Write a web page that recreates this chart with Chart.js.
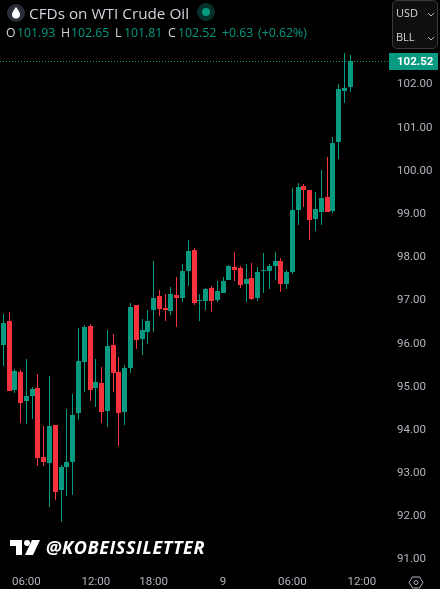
<!DOCTYPE html>
<html>
<head>
<meta charset="utf-8">
<script src="https://cdn.jsdelivr.net/npm/chart.js@4"></script>
<style>
  html, body { margin: 0; padding: 0; background: #000; }
  #wrap { position: relative; width: 440px; height: 589px; overflow: hidden; font-family: "Open Sans", sans-serif; }
  #wrap div, #wrap svg { position: absolute; white-space: nowrap; }
  #title { left: 29px; top: 3px; font-size: 15.3px; line-height: 20px; color: #d1d4dc; }
  .ohlc { top: 25px; font-size: 12.3px; line-height: 16px; color: #089981; }
  .ohlc.k { color: #d1d4dc; }
  #unitbox { left: 392px; top: 0; width: 46px; height: 49px; border: 1px solid #3a3a3a; border-radius: 5px; background: #0f0f0f; box-sizing: border-box; }
  .unit { left: 3px; font-size: 11px; line-height: 14px; color: #d1d4dc; }
  #mark { left: 46px; top: 536px; font-size: 18px; line-height: 22px; letter-spacing: 0.6px; font-weight: 700; font-style: italic; color: #fff; }
</style>
</head>
<body>
<div id="wrap">
  <canvas id="chart" width="440" height="589"></canvas>

  <svg style="left:7px;top:4px" width="18" height="18" viewBox="0 0 18 18">
    <circle cx="9" cy="9" r="9" fill="#2a2e39"/>
    <path d="M9 3 C11 6 13 8 13 10.5 A4 4 0 0 1 5 10.5 C5 8 7 6 9 3Z" fill="#fff"/>
  </svg>
  <div id="title">CFDs on WTI Crude Oil</div>
  <svg style="left:197px;top:3px" width="18" height="18" viewBox="0 0 18 18">
    <circle cx="9" cy="9" r="9" fill="#06302a"/>
    <circle cx="9" cy="9" r="4" fill="#089981"/>
  </svg>

  <div class="ohlc k" style="left:6px">O</div><div class="ohlc" style="left:17px">101.93</div>
  <div class="ohlc k" style="left:61px">H</div><div class="ohlc" style="left:71px">102.65</div>
  <div class="ohlc k" style="left:115px">L</div><div class="ohlc" style="left:124px">101.81</div>
  <div class="ohlc k" style="left:168px">C</div><div class="ohlc" style="left:178px">102.52</div>
  <div class="ohlc" style="left:222px">+0.63</div><div class="ohlc" style="left:258px">(+0.62%)</div>

  <div id="unitbox">
    <div class="unit" style="top:5px">USD</div>
    <div class="unit" style="top:29px">BLL</div>
    <svg style="left:34px;top:11px" width="8" height="5" viewBox="0 0 8 5"><path d="M1 1 L4 4 L7 1" fill="none" stroke="#b2b5be"/></svg>
    <svg style="left:34px;top:35px" width="8" height="5" viewBox="0 0 8 5"><path d="M1 1 L4 4 L7 1" fill="none" stroke="#b2b5be"/></svg>
  </div>

  <svg style="left:10px;top:540px" width="30" height="15" viewBox="0 0 30 15">
    <path d="M0 0 H12 V15 H6 V6 H0Z" fill="#fff"/>
    <circle cx="17" cy="3" r="3" fill="#fff"/>
    <path d="M22 0 H30 L23 15 H15Z" fill="#fff"/>
  </svg>
  <div id="mark">@KOBEISSILETTER</div>

  <svg style="left:408px;top:576px" width="16" height="13" viewBox="0 0 16 13">
    <path d="M4.5 1 H11.5 L15 6.5 L11.5 12 H4.5 L1 6.5Z" fill="none" stroke="#b2b5be"/>
    <circle cx="8" cy="6.5" r="2" fill="none" stroke="#b2b5be"/>
  </svg>
</div>

<script>
const opens = [95.95, 96.50, 94.91, 95.32, 94.65, 94.77, 94.95, 93.35, 93.22, 94.10, 92.59, 93.12, 93.24, 94.37, 95.55, 96.39,
    94.95, 95.07, 94.42, 95.95, 95.32, 94.40, 95.41, 96.87, 96.09, 96.25, 96.76, 97.08, 96.80, 96.73, 97.10, 97.03,
    97.66, 98.15, 96.97, 96.97, 97.27, 96.99, 97.15, 97.45, 97.75, 97.73, 97.36, 97.50, 97.03, 97.66, 97.66, 97.78,
    97.89, 97.36, 97.64, 99.07, 99.63, 99.53, 98.86, 99.03, 99.37, 99.05, 100.65, 101.83, 101.93];
const highs = [96.66, 96.71, 95.39, 95.37, 95.62, 94.98, 95.28, 94.07, 95.23, 94.10, 93.17, 94.47, 94.81, 96.34, 96.41, 96.43,
    95.62, 95.44, 96.29, 96.20, 95.67, 95.48, 96.92, 96.87, 96.55, 96.76, 97.89, 97.22, 97.13, 97.29, 97.52, 97.82,
    98.38, 98.19, 97.13, 97.27, 97.31, 97.43, 97.52, 97.80, 98.10, 97.78, 97.82, 97.85, 97.75, 98.08, 97.82, 98.10,
    97.96, 97.68, 99.58, 99.70, 99.67, 99.53, 99.49, 100.00, 100.30, 100.76, 101.99, 102.71, 102.65];
const lows = [95.45, 94.88, 94.84, 94.15, 94.12, 94.23, 93.15, 93.15, 92.20, 92.36, 91.85, 92.45, 92.47, 94.21, 94.86, 94.65,
    94.51, 94.14, 94.05, 94.86, 93.61, 94.10, 95.30, 95.85, 95.72, 95.97, 96.25, 96.62, 96.50, 96.64, 96.36, 96.94,
    97.31, 96.87, 96.50, 96.76, 96.71, 96.94, 97.15, 97.45, 97.43, 97.27, 96.94, 96.99, 96.97, 97.15, 97.24, 97.45,
    97.17, 97.24, 97.59, 98.72, 99.14, 98.38, 98.59, 98.73, 99.03, 99.00, 100.25, 101.55, 101.81];
const closes = [96.46, 94.88, 95.35, 94.60, 94.77, 94.93, 93.33, 93.24, 94.07, 92.54, 93.12, 93.24, 94.33, 95.58, 96.36, 94.91,
    95.09, 94.40, 95.92, 95.30, 94.37, 95.41, 96.83, 96.06, 96.29, 96.50, 97.03, 96.78, 96.76, 97.13, 97.03, 97.66,
    98.12, 96.92, 96.99, 97.24, 96.97, 97.20, 97.43, 97.78, 97.68, 97.34, 97.47, 97.01, 97.64, 97.68, 97.78, 97.89,
    97.36, 97.64, 99.07, 99.60, 99.53, 98.84, 99.09, 99.35, 99.03, 100.62, 101.87, 101.90, 102.52];
const priceTicks = [91, 92, 93, 94, 95, 96, 97, 98, 99, 100, 101, 102];
const timeTickIndexes = [4, 16, 26, 38, 50, 62];
const timeTickLabels = ['06:00', '12:00', '18:00', '9', '06:00', '12:00'];
const lastPrice = 102.52;

const GREEN = '#089981';
const RED = '#f7323f';
const AXIS_TEXT = '#b2b5be';

const candleColors = opens.map((o, i) => (closes[i] >= o ? GREEN : RED));

// snap bars to whole pixels so the wicks stay 1px sharp
const snapCandles = {
    id: 'snapCandles',
    afterDatasetsUpdate(chart) {
        chart.data.datasets.forEach((ds, d) => {
            chart.getDatasetMeta(d).data.forEach((el) => {
                el.x = Math.floor(el.x) + 0.5;
                el.y = Math.round(el.y);
                el.base = Math.round(el.base);
                if (el.y === el.base) el.base = el.y + 1;
            });
        });
    },
};

const lastPriceTag = {
    id: 'lastPriceTag',
    beforeDatasetsDraw(chart) {
        const { ctx, chartArea, scales } = chart;
        const y = Math.round(scales.y.getPixelForValue(lastPrice)) + 0.5;
        ctx.save();
        ctx.strokeStyle = GREEN;
        ctx.setLineDash([1, 2]);
        ctx.beginPath();
        ctx.moveTo(0, y);
        ctx.lineTo(chartArea.right, y);
        ctx.stroke();
        ctx.restore();
    },
    afterDraw(chart) {
        const { ctx, chartArea, scales } = chart;
        const y = Math.round(scales.y.getPixelForValue(lastPrice));
        ctx.save();
        ctx.fillStyle = GREEN;
        ctx.fillRect(chartArea.right, y - 8, 49, 17);
        ctx.fillStyle = '#fff';
        ctx.font = 'bold 11.5px Roboto';
        ctx.textAlign = 'left';
        ctx.textBaseline = 'middle';
        ctx.fillText(lastPrice.toFixed(2), chartArea.right + 8, y + 1);
        ctx.restore();
    },
};

new Chart(document.getElementById('chart'), {
    type: 'bar',
    data: {
        datasets: [
            {
                label: 'Body',
                data: opens.map((o, i) => ({ x: i, y: [o, closes[i]] })),
                backgroundColor: candleColors,
                barThickness: 5,
                borderWidth: 0,
                borderSkipped: false,
                inflateAmount: 0,
                grouped: false,
            },
            {
                label: 'Wick',
                data: lows.map((l, i) => ({ x: i, y: [l, highs[i]] })),
                backgroundColor: candleColors,
                barThickness: 1,
                borderWidth: 0,
                borderSkipped: false,
                inflateAmount: 0,
                grouped: false,
            },
        ],
    },
    plugins: [snapCandles, lastPriceTag],
    options: {
        responsive: false,
        animation: false,
        layout: { padding: 0 },
        plugins: { legend: { display: false }, tooltip: { enabled: false } },
        scales: {
            x: {
                type: 'linear',
                min: -0.57,
                max: 66.7,
                offset: false,
                grid: { display: false, drawTicks: false, tickLength: 0 },
                border: { display: false },
                afterBuildTicks(scale) {
                    scale.ticks = timeTickIndexes.map((value) => ({ value }));
                },
                afterFit(scale) {
                    scale.height = 19;
                    scale.paddingLeft = scale.paddingRight = 0;
                },
                ticks: {
                    autoSkip: false,
                    maxRotation: 0,
                    padding: 5,
                    color: AXIS_TEXT,
                    font: { family: 'Roboto', size: 11.5 },
                    callback: (v) => timeTickLabels[timeTickIndexes.indexOf(v)],
                },
            },
            y: {
                position: 'right',
                min: 90.736,
                max: 103.933,
                grid: { display: false, drawTicks: false, tickLength: 0 },
                border: { display: false },
                afterBuildTicks(scale) {
                    scale.ticks = priceTicks.map((value) => ({ value }));
                },
                afterFit(scale) {
                    scale.width = 51;
                    scale.paddingTop = scale.paddingBottom = 0;
                },
                ticks: {
                    padding: 8,
                    labelOffset: 1,
                    color: AXIS_TEXT,
                    font: { family: 'Roboto', size: 11.5 },
                    callback: (v) => v.toFixed(2),
                },
            },
        },
    },
});
</script>
</body>
</html>
